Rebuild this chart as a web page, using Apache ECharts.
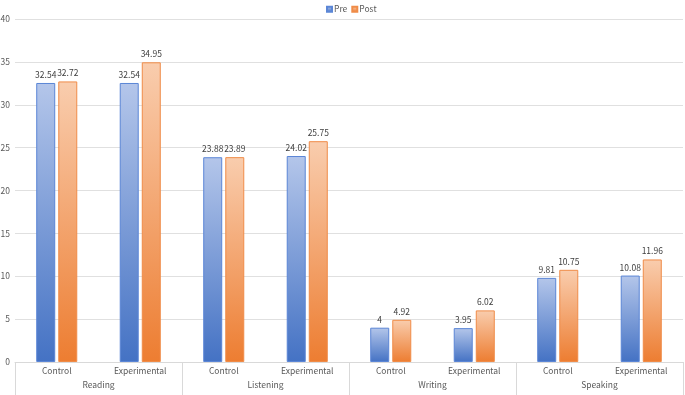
<!DOCTYPE html>
<html>
<head>
<meta charset="utf-8">
<script src="https://cdn.jsdelivr.net/npm/echarts@6/dist/echarts.min.js"></script>
<style>
  html, body { margin: 0; padding: 0; background: #fff; }
  #chart { width: 685px; height: 395px; }
</style>
</head>
<body>
<div id="chart"></div>
<script>
// 数据
const subCategories = ['Control', 'Experimental', 'Control', 'Experimental', 'Control', 'Experimental', 'Control', 'Experimental'];
const groups = ['Reading', 'Listening', 'Writing', 'Speaking'];
const preValues = [32.54, 32.54, 23.88, 24.02, 4, 3.95, 9.81, 10.08];
const postValues = [32.72, 34.95, 23.89, 25.75, 4.92, 6.02, 10.75, 11.96];
const seriesNames = ['Pre', 'Post'];

const fontFamily = '"Noto Sans CJK SC", "Noto Sans", sans-serif';
const fontSize = 8.5;

function grad(top, bottom) {
    return {
        type: 'linear', x: 0, y: 0, x2: 0, y2: 1,
        colorStops: [
            {offset: 0, color: top},
            {offset: 1, color: bottom}
        ]
    };
}

const chart = echarts.init(document.getElementById('chart'));

const option = {
    animation: false,
    textStyle: {fontFamily: fontFamily},
    legend: {
        data: seriesNames,
        top: 0,
        left: 321,
        itemWidth: 5,
        itemHeight: 5,
        itemGap: 4,
        icon: 'rect',
        textStyle: {color: '#595959', fontSize: fontSize, fontFamily: fontFamily, padding: [0, 0, 0, -3]}
    },
    grid: {
        left: 15,
        right: 2,
        top: 19,
        bottom: 33,
        containLabel: false,
        outerBoundsMode: 'none'
    },
    xAxis: [
        {
            type: 'category',
            data: subCategories,
            axisLine: {lineStyle: {color: '#d9d9d9'}},
            axisTick: {show: false},
            axisLabel: {color: '#595959', fontSize: fontSize, fontFamily: fontFamily, margin: 5}
        },
        {
            type: 'category',
            data: groups,
            position: 'bottom',
            axisLine: {show: false},
            axisTick: {
                show: true,
                inside: false,
                length: 33,
                interval: 0,
                lineStyle: {color: '#d9d9d9'}
            },
            axisLabel: {color: '#595959', fontSize: fontSize, fontFamily: fontFamily, margin: 19}
        }
    ],
    yAxis: {
        type: 'value',
        min: 0,
        max: 40,
        interval: 5,
        axisLine: {show: false},
        axisTick: {show: false},
        axisLabel: {color: '#595959', fontSize: fontSize, fontFamily: fontFamily, margin: 5},
        splitLine: {lineStyle: {color: '#e0e0e0'}}
    },
    series: [
        {
            name: seriesNames[0],
            type: 'bar',
            xAxisIndex: 0,
            data: preValues,
            barWidth: 19,
            barGap: '16%',
            itemStyle: {
                color: grad('#b4c6ea', '#4472c4'),
                borderColor: '#5b86d6',
                borderWidth: 1
            },
            label: {
                show: true,
                position: 'top',
                distance: 4,
                color: '#404040',
                fontSize: fontSize,
                fontFamily: fontFamily
            }
        },
        {
            name: seriesNames[1],
            type: 'bar',
            xAxisIndex: 0,
            data: postValues,
            barWidth: 19,
            itemStyle: {
                color: grad('#f9cdae', '#ed7d31'),
                borderColor: '#f08c48',
                borderWidth: 1
            },
            label: {
                show: true,
                position: 'top',
                distance: 4,
                color: '#404040',
                fontSize: fontSize,
                fontFamily: fontFamily
            }
        }
    ]
};

chart.setOption(option);
</script>
</body>
</html>
